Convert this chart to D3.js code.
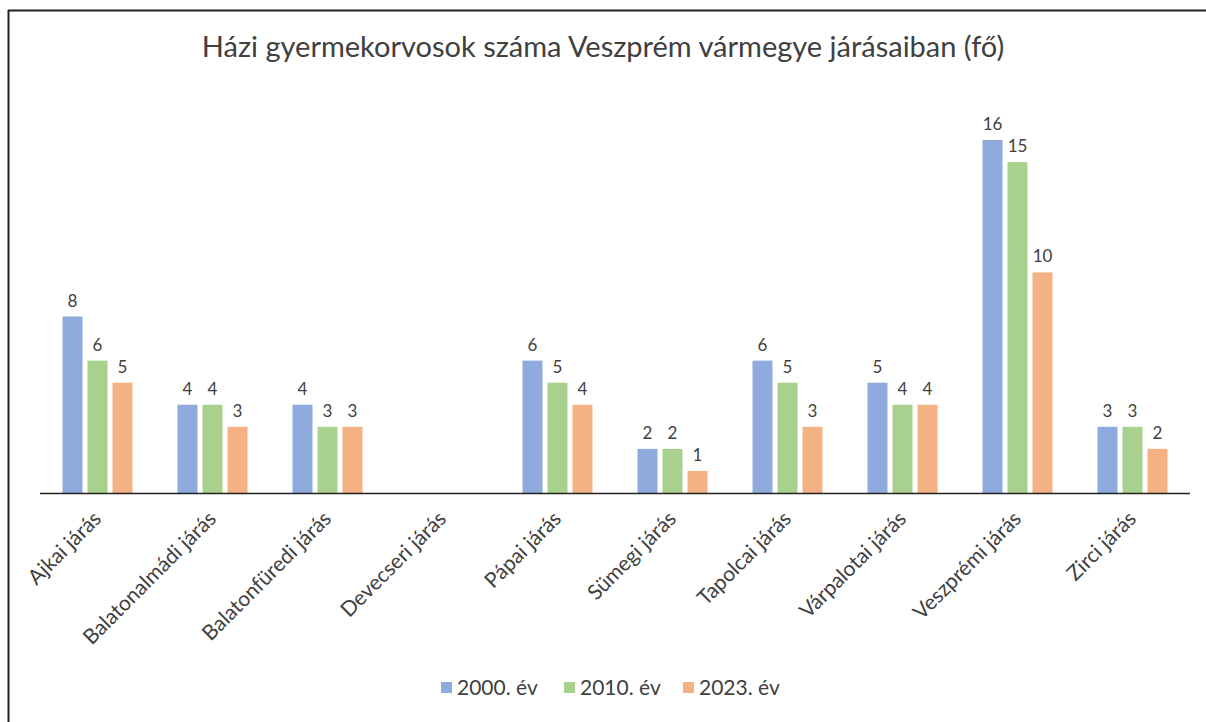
<!DOCTYPE html>
<html>
<head>
<meta charset="utf-8">
<script src="https://cdn.jsdelivr.net/npm/d3@7"></script>
<style>
  body { margin: 0; background: #fff; }
  svg text { font-family: Lato, "Open Sans", sans-serif; fill: #404040; }
</style>
</head>
<body>
<svg id="chart" width="1206" height="722"></svg>
<script>
const jarasok = ["Ajkai járás", "Balatonalmádi járás", "Balatonfüredi járás", "Devecseri járás",
  "Pápai járás", "Sümegi járás", "Tapolcai járás", "Várpalotai járás", "Veszprémi járás", "Zirci járás"]
const evek = ["2000. év", "2010. év", "2023. év"]
const ertek2000 = [8, 4, 4, null, 6, 2, 6, 5, 16, 3]
const ertek2010 = [6, 4, 3, null, 5, 2, 5, 4, 15, 3]
const ertek2023 = [5, 3, 3, null, 4, 1, 3, 4, 10, 2]
const szinek = ["#8faadc", "#a9d18e", "#f4b183"]

const sorok = [ertek2000, ertek2010, ertek2023]

const svg = d3.select("#chart")

// keret (csak a bal és felső él látszik)
svg.append("line").attr("x1", 8.5).attr("x2", 8.5).attr("y1", 10).attr("y2", 722)
  .attr("stroke", "#222").attr("stroke-width", 2)
svg.append("line").attr("x1", 8).attr("x2", 1206).attr("y1", 10.5).attr("y2", 10.5)
  .attr("stroke", "#222").attr("stroke-width", 2)

svg.append("text")
  .attr("x", 603).attr("y", 57)
  .attr("text-anchor", "middle")
  .style("font-size", "29px")
  .text("Házi gyermekorvosok száma Veszprém vármegye járásaiban (fő)")

const x = d3.scaleBand().domain(jarasok).range([40, 1190])
const x1 = d3.scaleBand().domain(d3.range(3)).range([0, 70]).paddingInner(0.2)
const y = d3.scaleLinear().domain([0, 16]).range([493, 140])

const csoport = svg.selectAll("g.csoport")
  .data(jarasok)
  .join("g")
  .attr("class", "csoport")
  .attr("transform", d => `translate(${x(d) + x.bandwidth() / 2 - 35},0)`)

csoport.each(function(jaras, i) {
  const g = d3.select(this)
  const adat = sorok.map((s, k) => ({k: k, v: s[i]})).filter(d => d.v != null)
  g.selectAll("rect")
    .data(adat)
    .join("rect")
    .attr("x", d => x1(d.k))
    .attr("width", x1.bandwidth())
    .attr("y", d => y(d.v))
    .attr("height", d => y(0) - y(d.v))
    .attr("fill", d => szinek[d.k])
  g.selectAll("text")
    .data(adat)
    .join("text")
    .attr("x", d => x1(d.k) + x1.bandwidth() / 2)
    .attr("y", d => y(d.v) - 10)
    .attr("text-anchor", "middle")
    .style("font-size", "17px")
    .text(d => d.v)
})

// tengely
svg.append("line")
  .attr("x1", 40).attr("x2", 1190)
  .attr("y1", y(0) + 0.5).attr("y2", y(0) + 0.5)
  .attr("stroke", "#222").attr("stroke-width", 1.5)

svg.selectAll("text.kat")
  .data(jarasok)
  .join("text")
  .attr("class", "kat")
  .attr("text-anchor", "end")
  .attr("transform", d => `translate(${x(d) + x.bandwidth() / 2 + 5},${y(0) + 27}) rotate(-45)`)
  .style("font-size", "21px")
  .text(d => d)

// jelmagyarázat
const legendX = [441, 564, 683]
const jm = svg.selectAll("g.jm")
  .data(evek)
  .join("g")
  .attr("class", "jm")
  .attr("transform", (d, i) => `translate(${legendX[i]},688)`)
jm.append("rect").attr("x", 0).attr("y", -6).attr("width", 11).attr("height", 11)
  .attr("fill", (d, i) => szinek[i])
jm.append("text").attr("x", 16).attr("y", 7).style("font-size", "21px").text(d => d)
</script>
</body>
</html>
